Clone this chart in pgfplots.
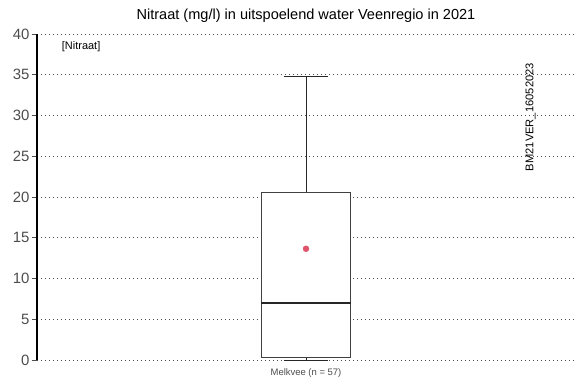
\documentclass[border=0pt]{standalone}
\usepackage{pgfplots}
\pgfplotsset{compat=1.18}
\usepgfplotslibrary{statistics}
\usepackage{fontspec}
\setmainfont{Liberation Sans}
\definecolor{meanred}{HTML}{DF536B}
\definecolor{tickgray}{HTML}{4D4D4D}
\begin{document}
\begin{tikzpicture}
\useasboundingbox (0,0) rectangle (584bp,389bp);
\begin{axis}[
  at={(37bp,29bp)}, anchor=south west,
  width=538bp, height=326bp, scale only axis,
  xmin=-1, xmax=1, ymin=0, ymax=40,
  axis lines=left,
  x axis line style={draw=none},
  y axis line style={line width=1.4pt,-},
  ytick={0,5,...,40},
  xtick={0}, xticklabels={Melkvee (n = 57)},
  x tick label style={font=\fontsize{9.5}{10}\selectfont, text=tickgray, yshift=0bp},
  y tick label style={font=\fontsize{15}{16}\selectfont, text=tickgray, xshift=1bp},
  /pgf/number format/assume math mode=true,
  xtick style={draw=none},
  ytick style={draw=tickgray, line width=0.6pt},
  tick align=outside,
  major tick length=5bp,
  ymajorgrids, grid style={dash pattern=on 1bp off 3bp, line width=0.7pt, black!70},
  clip=false,
]
\addplot+[boxplot/draw direction=y, boxplot prepared={lower whisker=0, lower quartile=0.3, median=7.0, upper quartile=20.6, upper whisker=34.8, draw position=0, box extend=0.331, whisker extend=0.167}, draw=black!80, line width=0.5pt, solid, mark=none,
  boxplot/every median/.style={line width=1.4pt, draw=black!85},
  boxplot/every whisker/.style={draw=black!85, line width=0.5pt},
  boxplot/every box/.style={draw=black!75, fill=white, line width=0.6pt}]
  coordinates {};
\addplot[only marks, mark=*, mark size=3pt, color=meanred] coordinates {(0,13.65)};
\node[font=\fontsize{11}{12}\selectfont, anchor=center] at (axis cs:-0.836,38.4) {[Nitraat]};
\node[font=\fontsize{11.2}{12}\selectfont, rotate=90, anchor=center] at (axis cs:0.835,29.8) {BM21VER\_16052023};
\end{axis}
\node[font=\fontsize{14.6}{16}\selectfont] at (306bp,373bp) {Nitraat (mg/l) in uitspoelend water Veenregio in 2021};
\end{tikzpicture}
\end{document}
